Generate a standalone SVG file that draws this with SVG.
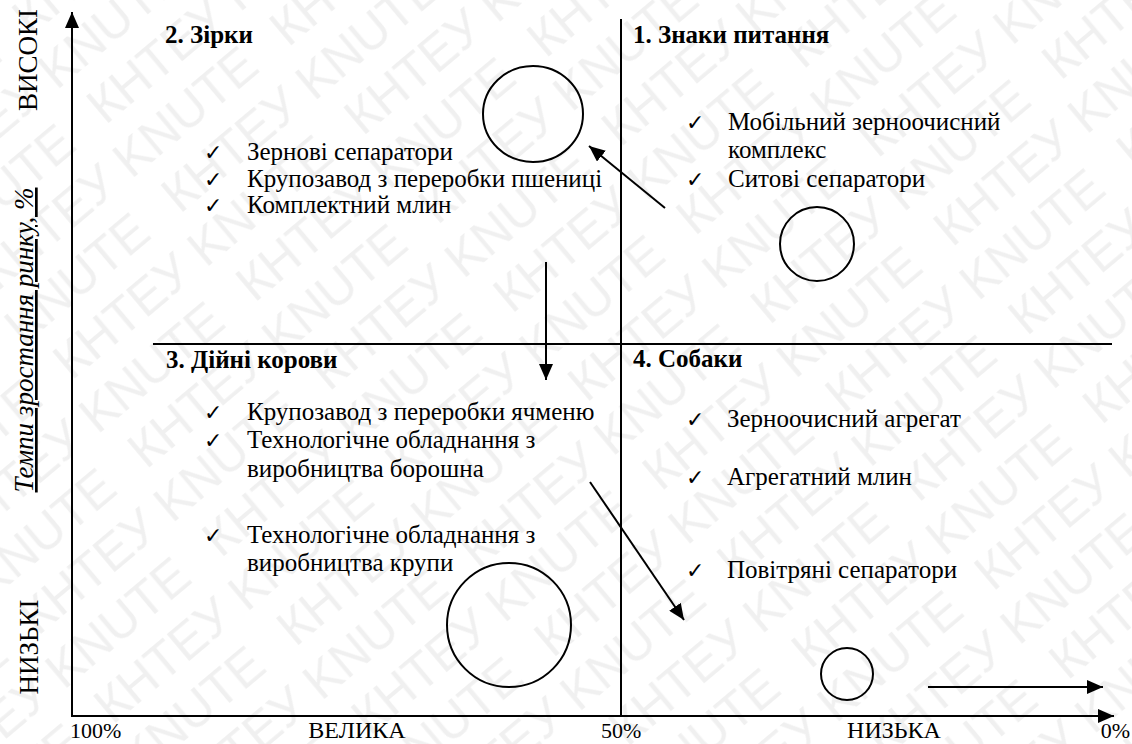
<svg xmlns="http://www.w3.org/2000/svg" width="1132" height="744" viewBox="0 0 1132 744">
<defs>
<marker id="ah" markerUnits="userSpaceOnUse" markerWidth="16" markerHeight="14" refX="16" refY="7" orient="auto"><path d="M0,0 L16,7 L0,14 Z" fill="#000"/></marker>
<style>
.t{font-family:"Liberation Serif","Times New Roman",serif;font-size:25px;fill:#000}
.n{font-size:22px}
.w{font-size:24px}
.b{font-weight:bold}
.r{font-size:27px}
.it{font-style:italic;text-decoration:underline}
.ck{font-family:"DejaVu Sans",sans-serif;font-size:22px;font-weight:bold;fill:#000}
.ln{stroke:#000;stroke-width:2;fill:none}
.wm{font-family:"Liberation Sans",Arial,sans-serif;font-size:50px;fill:#000;fill-opacity:0.06}
</style>
<pattern id="wmp" patternUnits="userSpaceOnUse" width="380" height="116" patternTransform="rotate(-40)">
<text class="wm" x="0" y="48" textLength="345" lengthAdjust="spacingAndGlyphs">КНТЕУ KNUTE</text>
<text class="wm" x="-190" y="106" textLength="345" lengthAdjust="spacingAndGlyphs">КНТЕУ KNUTE</text>
<text class="wm" x="190" y="106" textLength="345" lengthAdjust="spacingAndGlyphs">КНТЕУ KNUTE</text>
</pattern>
</defs>
<rect width="1132" height="744" fill="#fff"/>
<rect id="watermark" width="1132" height="744" fill="url(#wmp)"/>
<g id="axes">
<line class="ln" x1="72" y1="716" x2="72" y2="12" marker-end="url(#ah)"/>
<line class="ln" x1="71" y1="716" x2="1114" y2="716" marker-end="url(#ah)"/>
<line class="ln" x1="621" y1="19" x2="621" y2="716"/>
<line class="ln" x1="153" y1="344" x2="1112" y2="344"/>
</g>
<g id="axis-labels">
<text class="t r" transform="translate(37,60) rotate(-90)" text-anchor="middle">ВИСОКІ</text>
<text class="t r" transform="translate(38,647) rotate(-90)" text-anchor="middle">НИЗЬКІ</text>
<text class="t r it" transform="translate(33,340) rotate(-90)" text-anchor="middle">Темпи зростання ринку, %</text>
<text class="t n" x="70" y="738">100%</text>
<text class="t w" x="357" y="738" text-anchor="middle">ВЕЛИКА</text>
<text class="t n" x="601" y="738">50%</text>
<text class="t w" x="894" y="738" text-anchor="middle">НИЗЬКА</text>
<text class="t n" x="1130" y="738" text-anchor="end">0%</text>
</g>
<g id="q2-stars">
<text class="t b" x="165" y="43">2. Зірки</text>
<text class="ck" x="204" y="160">✓</text><text class="t" x="247" y="160">Зернові сепаратори</text>
<text class="ck" x="204" y="187">✓</text><text class="t" x="247" y="187">Крупозавод з переробки пшениці</text>
<text class="ck" x="204" y="213">✓</text><text class="t" x="247" y="213">Комплектний млин</text>
<ellipse class="ln" cx="533" cy="114" rx="50" ry="48"/>
</g>
<g id="q1-question-marks">
<text class="t b" x="633" y="43">1. Знаки питання</text>
<text class="ck" x="686" y="130">✓</text><text class="t" x="728" y="130">Мобільний зерноочисний</text>
<text class="t" x="728" y="158">комплекс</text>
<text class="ck" x="686" y="187">✓</text><text class="t" x="728" y="187">Ситові сепаратори</text>
<circle class="ln" cx="817" cy="244" r="37"/>
</g>
<g id="q3-cash-cows">
<text class="t b" x="166" y="368">3. Дійні корови</text>
<text class="ck" x="204" y="420">✓</text><text class="t" x="247" y="420">Крупозавод з переробки ячменю</text>
<text class="ck" x="204" y="448">✓</text><text class="t" x="247" y="448">Технологічне обладнання з</text>
<text class="t" x="247" y="477">виробництва борошна</text>
<text class="ck" x="204" y="543">✓</text><text class="t" x="247" y="543">Технологічне обладнання з</text>
<text class="t" x="247" y="571">виробництва крупи</text>
<circle class="ln" cx="509" cy="625" r="62"/>
</g>
<g id="q4-dogs">
<text class="t b" x="633" y="367">4. Собаки</text>
<text class="ck" x="686" y="427">✓</text><text class="t" x="727" y="427">Зерноочисний агрегат</text>
<text class="ck" x="686" y="485">✓</text><text class="t" x="727" y="485">Агрегатний млин</text>
<text class="ck" x="686" y="578">✓</text><text class="t" x="727" y="578">Повітряні сепаратори</text>
<circle class="ln" cx="847" cy="674" r="26"/>
</g>
<g id="connectors">
<line class="ln" x1="665" y1="208" x2="589" y2="146" marker-end="url(#ah)"/>
<line class="ln" x1="546" y1="262" x2="546" y2="380" marker-end="url(#ah)"/>
<line class="ln" x1="590" y1="482" x2="684" y2="620" marker-end="url(#ah)"/>
<line class="ln" x1="928" y1="687" x2="1103" y2="687" marker-end="url(#ah)"/>
</g>
</svg>
